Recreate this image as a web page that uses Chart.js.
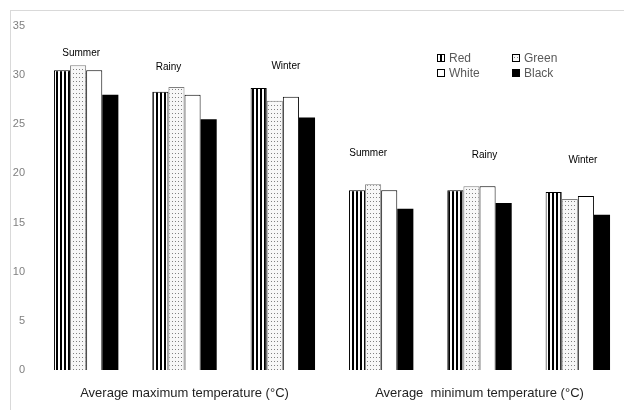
<!DOCTYPE html>
<html>
<head>
<meta charset="utf-8">
<script src="https://cdn.jsdelivr.net/npm/chart.js@4.4.1/dist/chart.umd.min.js"></script>
<style>
    html, body { margin: 0; padding: 0; background: #fff; overflow: hidden; }
    #frame { position: absolute; left: 10px; top: 10px; width: 700px; height: 500px; border: 1px solid #d9d9d9; }
    #wrap { position: absolute; left: 0; top: 0; width: 627px; height: 410px; }
</style>
</head>
<body>
<div id="frame"></div>
<div id="wrap"><canvas id="tempChart"></canvas></div>
<script>
// categories: three seasons for each of the two temperature groups
const seasons = ['Summer', 'Rainy', 'Winter', 'Summer', 'Rainy', 'Winter'];
const groupTitles = ['Average maximum temperature (\u00B0C)', 'Average  minimum temperature (\u00B0C)'];
const seriesNames = ['Red', 'Green', 'White', 'Black'];

const redValues   = [30.5, 28.3, 28.7, 18.3, 18.3, 18.1];
const greenValues = [31.0, 28.8, 27.4, 18.9, 18.7, 17.4];
const whiteValues = [30.5, 28.0, 27.8, 18.3, 18.7, 17.7];
const blackValues = [28.0, 25.5, 25.7, 16.4, 17.0, 15.8];

const yTicks = [0, 5, 10, 15, 20, 25, 30, 35];

function makePattern(w, h, draw) {
    const c = document.createElement('canvas');
    c.width = w;
    c.height = h;
    draw(c.getContext('2d'));
    return c.getContext('2d').createPattern(c, 'repeat');
}

const stripes = makePattern(4, 4, g => {
    g.fillStyle = '#fff';
    g.fillRect(0, 0, 4, 4);
    g.fillStyle = '#000';
    g.fillRect(0, 0, 2, 4);
});

const dots = makePattern(3, 4, g => {
    g.fillStyle = '#f7f7f7';
    g.fillRect(0, 0, 3, 4);
    g.fillStyle = '#808080';
    g.fillRect(1, 1, 1, 1);
});

// season names above each group + 2x2 legend in the top right
const overlayPlugin = {
    id: 'overlay',
    afterDatasetsDraw(chart, args, opts) {
        const ctx = chart.ctx;
        const x = chart.scales.x;
        const y = chart.scales.y;
        ctx.save();
        ctx.fillStyle = '#000';
        ctx.font = '10px "Liberation Sans", Arial, sans-serif';
        ctx.textAlign = 'center';
        ctx.textBaseline = 'middle';
        seasons.forEach((s, i) => {
            ctx.fillText(s, x.getPixelForValue(i) + opts.shift[i], y.getPixelForValue(opts.level[i]));
        });

        ctx.font = '12px "Liberation Sans", Arial, sans-serif';
        ctx.textAlign = 'left';
        chart.data.datasets.forEach((ds, i) => {
            const lx = opts.legendX + (i % 2) * opts.legendColW;
            const ly = opts.legendY + Math.floor(i / 2) * opts.legendRowH;
            ctx.fillStyle = ds.backgroundColor;
            ctx.fillRect(lx, ly - 3.5, 7, 7);
            ctx.strokeStyle = '#000';
            ctx.lineWidth = 1;
            ctx.strokeRect(lx + 0.5, ly - 3.5, 7, 7);
            ctx.fillStyle = '#595959';
            ctx.fillText(ds.label, lx + 12, ly + 1);
        });
        ctx.restore();
    }
};

new Chart(document.getElementById('tempChart'), {
    type: 'bar',
    data: {
        labels: seasons,
        datasets: [
            { label: seriesNames[0], data: redValues, backgroundColor: stripes, borderColor: '#000', borderWidth: 1 },
            { label: seriesNames[1], data: greenValues, backgroundColor: dots, borderColor: '#7f7f7f', borderWidth: 1 },
            { label: seriesNames[2], data: whiteValues, backgroundColor: '#fff', borderColor: '#000', borderWidth: 1 },
            { label: seriesNames[3], data: blackValues, backgroundColor: '#000', borderWidth: 0 }
        ]
    },
    options: {
        responsive: true,
        maintainAspectRatio: false,
        animation: false,
        categoryPercentage: 0.655,
        barPercentage: 1,
        layout: { padding: { top: 26, right: 0, left: 0, bottom: 0 } },
        plugins: {
            legend: { display: false },
            tooltip: { enabled: false },
            overlay: {
                shift: [-5, -16, 3, -13, 5, 5],
                level: [32.2, 30.8, 30.9, 22.1, 21.8, 21.3],
                legendX: 437,
                legendY: 58,
                legendColW: 75,
                legendRowH: 15
            }
        },
        scales: {
            x: {
                grid: { display: false, drawTicks: false },
                border: { display: false },
                afterFit: scale => { scale.height = 40; },
                ticks: {
                    padding: 16,
                    maxRotation: 0,
                    autoSkip: false,
                    color: '#1f1f1f',
                    font: { family: '"Liberation Sans", Arial, sans-serif', size: 13 },
                    callback: (v, i) => i === 1 ? groupTitles[0] : (i === 4 ? groupTitles[1] : '')
                }
            },
            y: {
                min: 0,
                max: 35,
                afterFit: scale => { scale.width = 37; },
                afterBuildTicks: scale => { scale.ticks = yTicks.map(v => ({ value: v })); },
                grid: { display: false, drawTicks: false },
                border: { display: false },
                ticks: {
                    padding: 12,
                    color: '#808080',
                    font: { family: '"Liberation Sans", Arial, sans-serif', size: 11 }
                }
            }
        }
    },
    plugins: [overlayPlugin]
});
</script>
</body>
</html>
